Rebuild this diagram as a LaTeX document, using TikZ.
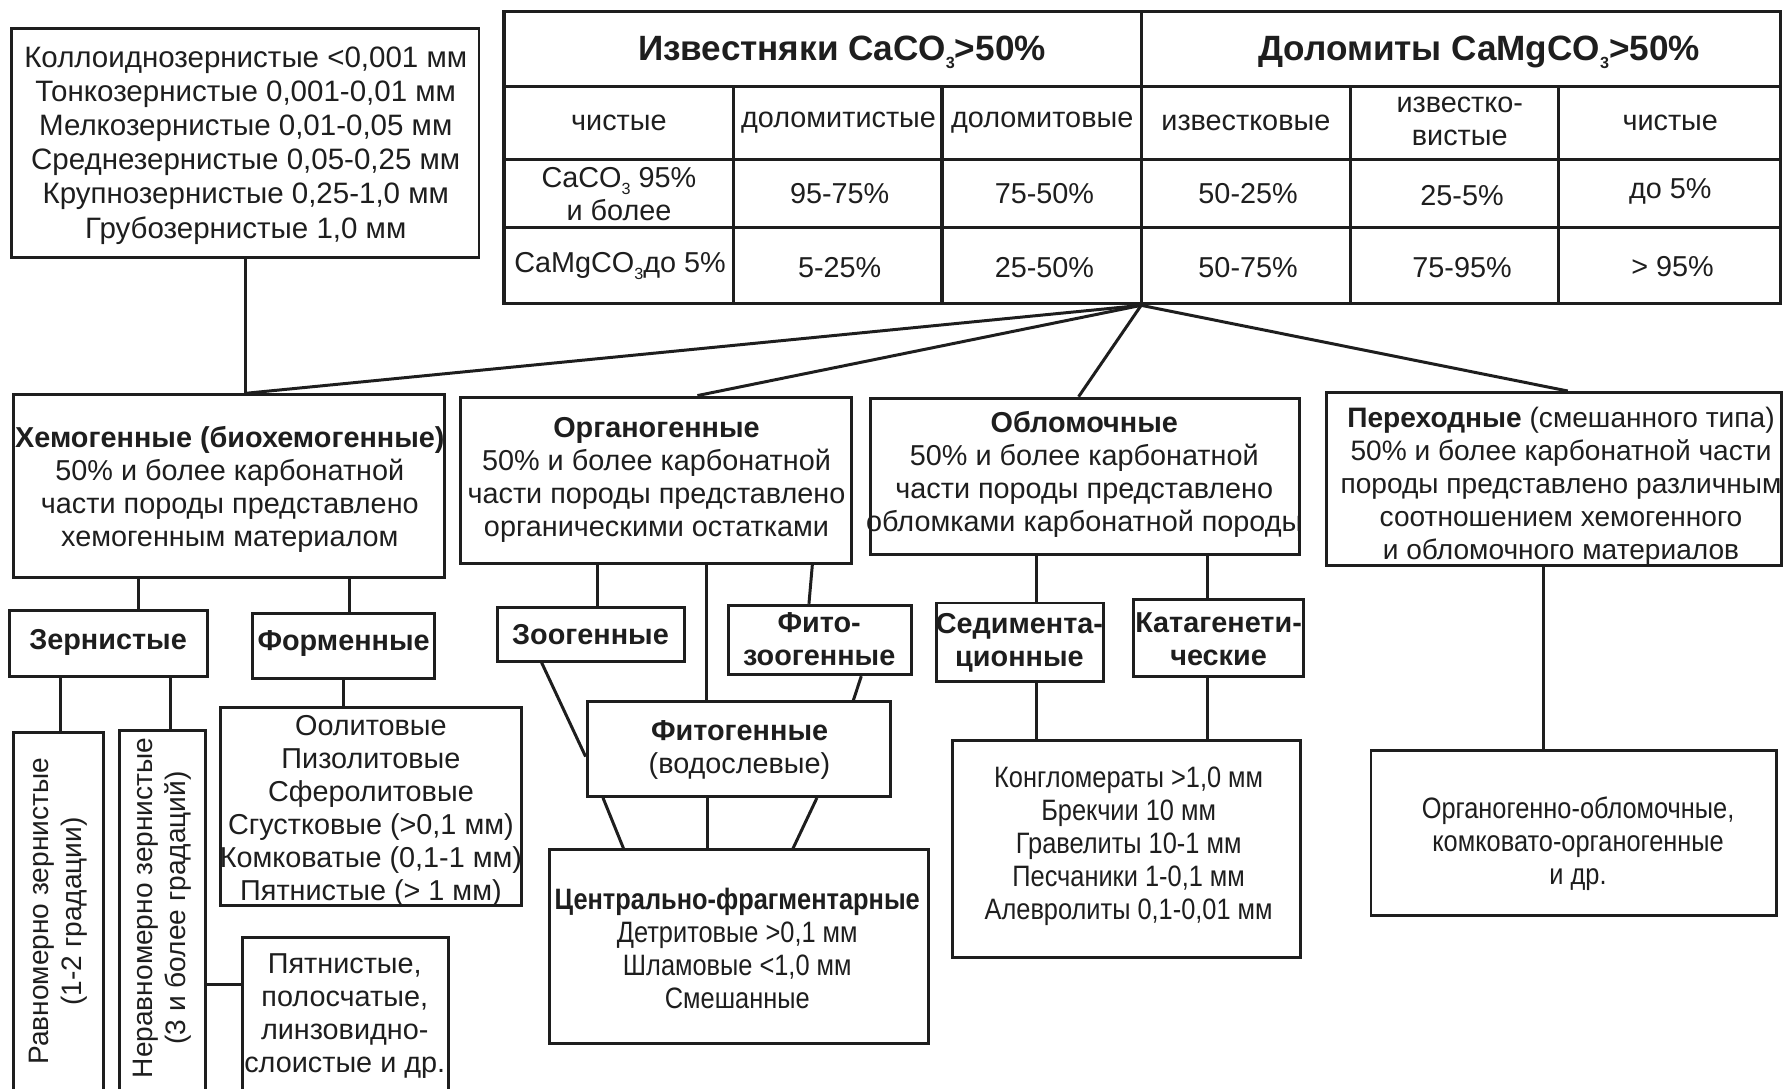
\documentclass[tikz,border=0pt]{standalone}
\usepackage{fontspec}
\setmainfont{Liberation Sans}
\newfontfamily\narrowfont{Liberation Sans}[FakeStretch=0.86]
\usetikzlibrary{fit}
\definecolor{ink}{RGB}{30,30,30}
\newcommand\fsnorm{\fontsize{8.2}{9.4}\selectfont}
\newcommand\fsper{\fontsize{8.0}{9.4}\selectfont}
\newcommand\fsrot{\fontsize{8.0}{9.4}\selectfont}
\newcommand\fsgrain{\fontsize{8.4}{9.7}\selectfont}
\newcommand\fsbold{\fontsize{8.2}{9.4}\selectfont\bfseries}
\newcommand\fshead{\fontsize{10}{12}\selectfont\bfseries}
\newcommand\fsnarrow{\narrowfont\fontsize{8.4}{9.4}\selectfont}
\newcommand\subthree{\raisebox{-0.45ex}{\fontsize{4.6}{5}\selectfont 3}}
\begin{document}
\begin{tikzpicture}[x=0.0113776cm, y=-0.0113776cm,
  box/.style={draw=ink, line width=0.85pt, inner sep=0pt, rectangle},
  tx/.style={align=center, inner sep=0pt, text=ink, font=\fsnorm},
  con/.style={draw=ink, line width=0.85pt},
  grid/.style={draw=ink, line width=0.9pt}]
\useasboundingbox (0,0) rectangle (1568,957);
\fill[white] (0,0) rectangle (1568,957);
\clip (0,0) rectangle (1568,957);

% ---------- grain size box
\node[box, fit={(10,25) (421,226)}] (grain) {};
\node[tx, font=\fsgrain] (grainT) at (216,128) {Коллоиднозернистые <0,001 мм\\Тонкозернистые 0,001-0,01 мм\\Мелкозернистые 0,01-0,05 мм\\Среднезернистые 0,05-0,25 мм\\Крупнозернистые 0,25-1,0 мм\\Грубозернистые 1,0 мм};

% ---------- table
\node[box, line width=0.9pt, fit={(443,10) (1565,267)}] (tab) {};
\draw[grid] (443,76) -- (1565,76);
\draw[grid] (443,140) -- (1565,140);
\draw[grid] (443,200) -- (1565,200);
\draw[grid] (1003,10) -- (1003,267);
\foreach \cx in {645,828,1187,1370} \draw[grid] (\cx,76) -- (\cx,267);

\node[tx, font=\fshead] (h1) at (740,46) {Известняки CaCO\subthree>50\%};
\node[tx, font=\fshead] (h2) at (1300,46) {Доломиты CaMgCO\subthree>50\%};

\node[tx] (c21) at (544,108) {чистые};
\node[tx] (c22) at (737,108) {доломитистые};
\node[tx] (c23) at (916,108) {доломитовые};
\node[tx] (c24) at (1095,108) {известковые};
\node[tx] (c25) at (1283,107) {известко-\\вистые};
\node[tx] (c26) at (1468,108) {чистые};

\node[tx] (c31) at (544,171) {CaCO\subthree{} 95\%\\и более};
\node[tx] (c32) at (738,170) {95-75\%};
\node[tx] (c33) at (918,170) {75-50\%};
\node[tx] (c34) at (1097,170) {50-25\%};
\node[tx] (c35) at (1285,172) {25-5\%};
\node[tx] (c36) at (1468,168) {до 5\%};

\node[tx] (c41) at (545,234) {CaMgCO\subthree до 5\%};
\node[tx] (c42) at (738,235) {5-25\%};
\node[tx] (c43) at (918,235) {25-50\%};
\node[tx] (c44) at (1097,235) {50-75\%};
\node[tx] (c45) at (1285,235) {75-95\%};
\node[tx] (c46) at (1470,234) {> 95\%};

% ---------- main classes
\node[box, fit={(12,347) (391,508)}] (hem) {};
\node[tx] (hemT) at (202,430) {\textbf{Хемогенные (биохемогенные)}\\50\% и более карбонатной\\части породы представлено\\хемогенным материалом};

\node[box, fit={(405,349) (748,495)}] (org) {};
\node[tx] (orgT) at (577,422) {\textbf{Органогенные}\\50\% и более карбонатной\\части породы представлено\\органическими остатками};

\node[box, fit={(765,350) (1142,487)}] (obl) {};
\node[tx] (oblT) at (953,417) {\textbf{Обломочные}\\50\% и более карбонатной\\части породы представлено\\обломками карбонатной породы};

\node[box, fit={(1166,345) (1566,497)}] (per) {};
\node[tx, font=\fsper] (perT) at (1372,427) {\textbf{Переходные} (смешанного типа)\\50\% и более карбонатной части\\породы представлено различным\\соотношением хемогенного\\и обломочного материалов};

% ---------- chemogenic branch
\node[box, fit={(8,537) (182,595)}] (zern) {};
\node[tx, font=\fsbold] (zernT) at (95,565) {Зернистые};
\node[box, fit={(222,539) (382,596)}] (form) {};
\node[tx, font=\fsbold] (formT) at (302,566) {Форменные};

\node[box, fit={(12,644) (91,975)}] (rav) {};
\node[tx, rotate=90, font=\fsrot] (ravT) at (51,801) {Равномерно зернистые\\(1-2 градации)};
\node[box, fit={(105,642) (181,975)}] (nerav) {};
\node[tx, rotate=90, font=\fsrot] (neravT) at (143,798) {Неравномерно зернистые\\(3 и более градаций)};
\node[box, fit={(213,824) (394,975)}] (pyat) {};
\node[tx] (pyatT) at (303,893) {Пятнистые,\\полосчатые,\\линзовидно-\\слоистые и др.};

\node[box, fit={(194,622) (458,796)}] (ool) {};
\node[tx] (oolT) at (326,713) {Оолитовые\\Пизолитовые\\Сферолитовые\\Сгустковые (>0,1 мм)\\Комковатые (0,1-1 мм)\\Пятнистые (> 1 мм)};

% ---------- organogenic branch
\node[box, fit={(437,534) (602,581)}] (zoo) {};
\node[tx, font=\fsbold] (zooT) at (519,558) {Зоогенные};
\node[box, fit={(640,532) (801,593)}] (fz) {};
\node[tx, font=\fsbold] (fzT) at (720,562) {Фито-\\зоогенные};
\node[box, fit={(516,617) (783,700)}] (phyto) {};
\node[tx] (phytoT) at (650,659) {\textbf{Фитогенные}\\(водослевые)};
\node[box, fit={(483,747) (816,917)}] (centr) {};
\node[tx, font=\fsnarrow] (centrT) at (648,834) {\textbf{Центрально-фрагментарные}\\Детритовые >0,1 мм\\Шламовые <1,0 мм\\Смешанные};

% ---------- clastic branch
\node[box, fit={(823,530) (970,599)}] (sed) {};
\node[tx, font=\fsbold] (sedT) at (896,565) {Седимента-\\ционные};
\node[box, fit={(996,527) (1146,595)}] (kat) {};
\node[tx, font=\fsbold] (katT) at (1071,562) {Катагенети-\\ческие};
\node[box, fit={(837,651) (1143,842)}] (kong) {};
\node[tx, font=\fsnarrow] (kongT) at (992,744) {Конгломераты >1,0 мм\\Брекчии 10 мм\\Гравелиты 10-1 мм\\Песчаники 1-0,1 мм\\Алевролиты 0,1-0,01 мм};

% ---------- transitional branch
\node[box, fit={(1205,660) (1561,805)}] (oo) {};
\node[tx, font=\fsnarrow] (ooT) at (1387,742) {Органогенно-обломочные,\\комковато-органогенные\\и др.};

% ---------- connectors
\draw[con] (grain.south) -- (grain.south |- hem.north);
\draw[con] (tab.south -| 1003,0) -- (hem.north -| 216,0);
\draw[con] (tab.south -| 1003,0) -- (org.north -| 613,0);
\draw[con] (tab.south -| 1003,0) -- (obl.north -| 948,0);
\draw[con] (tab.south -| 1003,0) -- (per.north -| 1378,0);

\draw[con] (hem.south -| 122,0) -- (zern.north -| 122,0);
\draw[con] (hem.south -| 307,0) -- (form.north -| 307,0);
\draw[con] (zern.south -| 53,0) -- (rav.north -| 53,0);
\draw[con] (zern.south -| 150,0) -- (nerav.north -| 150,0);
\draw[con] (nerav.east |- 0,865) -- (pyat.west |- 0,865);
\draw[con] (form.south -| 302,0) -- (ool.north -| 302,0);

\draw[con] (org.south -| 525,0) -- (zoo.north -| 525,0);
\draw[con] (org.south -| 621,0) -- (phyto.north -| 621,0);
\draw[con] (org.south -| 714,0) -- (fz.north -| 711,0);
\draw[con] (zoo.south -| 476,0) -- (phyto.west |- 0,665);
\draw[con] (fz.south -| 757,0) -- (phyto.north -| 750,0);
\draw[con] (phyto.south -| 530,0) -- (centr.north -| 548,0);
\draw[con] (phyto.south -| 622,0) -- (centr.north -| 622,0);
\draw[con] (phyto.south -| 718,0) -- (centr.north -| 697,0);

\draw[con] (obl.south -| 911,0) -- (sed.north -| 911,0);
\draw[con] (obl.south -| 1061,0) -- (kat.north -| 1061,0);
\draw[con] (sed.south -| 911,0) -- (kong.north -| 911,0);
\draw[con] (kat.south -| 1061,0) -- (kong.north -| 1061,0);

\draw[con] (per.south -| 1357,0) -- (oo.north -| 1357,0);
\end{tikzpicture}
\end{document}
